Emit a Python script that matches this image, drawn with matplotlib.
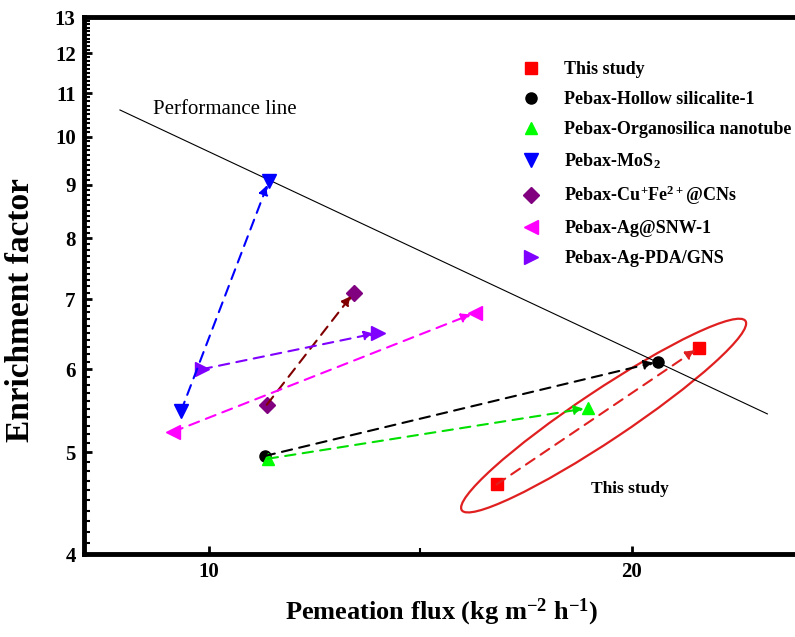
import numpy as np
import matplotlib
matplotlib.use('Agg')
import matplotlib.pyplot as plt
from matplotlib.patches import Ellipse
from matplotlib.lines import Line2D
from matplotlib.transforms import IdentityTransform
from matplotlib.ticker import FixedLocator, NullFormatter

plt.rcParams['font.family'] = ['Liberation Serif', 'DejaVu Serif']
plt.rcParams['mathtext.default'] = 'regular'

# Each series: start point -> end point (flux, enrichment factor)
labels = ['This study', 'Pebax-Hollow silicalite-1', 'Pebax-Organosilica nanotube',
          'Pebax-MoS$_2$', 'Pebax-Cu$^{+}$Fe$^{2+}$@CNs', 'Pebax-Ag@SNW-1',
          'Pebax-Ag-PDA/GNS']
flux_start = [16.8, 11.32, 11.39, 9.34, 11.37, 9.15, 9.83]
flux_end = [21.58, 20.61, 18.96, 11.42, 13.43, 16.29, 14.0]
ef_start = [4.66, 4.96, 4.93, 5.47, 5.55, 5.23, 6.00]
ef_end = [6.29, 6.10, 5.51, 9.07, 7.10, 6.79, 6.50]

markers = ['s', 'o', '^', 'v', 'D', '<', '>']
marker_colors = ['#ff0000', '#000000', '#00ff00', '#0000ff', '#800080', '#ff00ff', '#8000ff']
line_colors = ['#e02020', '#000000', '#00e000', '#0000ff', '#800000', '#ff00ff', '#8000ff']
marker_sizes = [8, 8, 9, 10, 8, 10, 10]

# performance line end points
perf_x = [7.9, 23.2]
perf_y = [10.6, 5.44]

yticks_major = [4, 5, 6, 7, 8, 9, 10, 11, 12, 13]

fig = plt.figure(figsize=(7.95, 6.37), dpi=100)
ax = fig.add_axes([84 / 795, 83 / 637, 713 / 795, 537 / 637])

ax.set_yscale('log')
ax.set_xlim(7.05, 23.9)
ax.set_ylim(4, 13)

ax.plot(perf_x, perf_y, color='black', lw=0.8)
ax.text(8.68, 10.51, 'Performance line', fontsize=15, ha='left', va='baseline')

for i in range(len(labels)):
    ax.annotate('', xy=(flux_end[i], ef_end[i]), xytext=(flux_start[i], ef_start[i]),
                arrowprops=dict(arrowstyle='-|>', color=line_colors[i], lw=1.5,
                                linestyle=(0, (5, 3.5)), mutation_scale=14,
                                shrinkA=0, shrinkB=3))
    ax.plot([flux_start[i], flux_end[i]], [ef_start[i], ef_end[i]], ls='none',
            marker=markers[i], ms=marker_sizes[i], color=marker_colors[i], mec=marker_colors[i])

# ellipse around "This study", drawn in pixel space
cx, cy = ax.transData.transform((19.33, 5.42))
ell = Ellipse((cx, cy), width=341, height=50, angle=33.7, transform=IdentityTransform(),
              fill=False, edgecolor='#e02020', lw=1.6)
ax.add_artist(ell)
ax.text(19.03, 4.57, 'This study', fontsize=12.5, fontweight='bold', ha='left', va='baseline')

# axes styling
ax.yaxis.set_major_locator(FixedLocator(yticks_major))
ax.yaxis.set_minor_locator(FixedLocator(np.round(np.arange(4.1, 13, 0.1), 1)))
ax.yaxis.set_minor_formatter(NullFormatter())
ax.set_yticklabels([str(v) for v in yticks_major])
ax.set_xticks([10, 20])
ax.set_xticks([15], minor=True)
ax.tick_params(axis='both', which='major', direction='in', length=6, width=2,
               labelsize=15, pad=6)
ax.tick_params(axis='both', which='minor', direction='in', length=4, width=1.5)
ax.tick_params(axis='y', which='both', right=False)
ax.tick_params(axis='x', which='both', top=False)
for lab in ax.get_xticklabels() + ax.get_yticklabels():
    lab.set_fontweight('bold')

for side in ['left', 'bottom', 'top']:
    ax.spines[side].set_linewidth(3.5)
ax.spines['right'].set_visible(False)

ax.set_xlabel('Pemeation flux (kg m$^{-2}$ h$^{-1}$)', fontsize=19, fontweight='bold')
ax.set_ylabel('Enrichment factor', fontsize=24, fontweight='bold')
ax.xaxis.set_label_coords(0.502, -0.08)
ax.yaxis.set_label_coords(-0.068, 0.455)

handles = [Line2D([], [], ls='none', marker=markers[i], ms=marker_sizes[i],
                  color=marker_colors[i]) for i in range(len(labels))]
leg = fig.legend(handles, labels, loc='upper left', bbox_to_anchor=(513 / 795, 1 - 61 / 637),
                 frameon=False, prop={'family': 'Liberation Serif', 'weight': 'bold', 'size': 13},
                 labelspacing=0.72, handlelength=2.0, handletextpad=0.85,
                 borderpad=0, borderaxespad=0)

fig.savefig('out.png', dpi=100)
